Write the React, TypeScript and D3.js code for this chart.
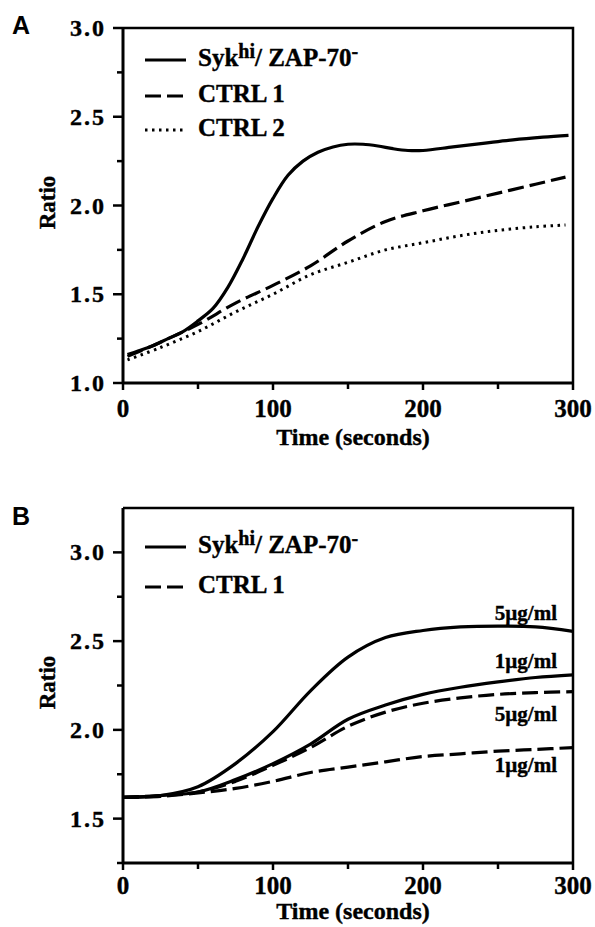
import React from 'react';
import * as d3 from 'd3';

type Pt = [number, number];

// time axis (seconds)
const timeTicks = [0, 100, 200, 300];
const timeMinorTicks = [50, 150, 250];

// ratio axis ticks
const ratioTicksA = [1.0, 1.5, 2.0, 2.5, 3.0];
const ratioMinorA = [1.25, 1.75, 2.25, 2.75];
const ratioTicksB = [1.5, 2.0, 2.5, 3.0];
const ratioMinorB = [1.25, 1.75, 2.25, 2.75];

// panel A series
const sykA: Pt[] = [
  [3, 1.16], [10, 1.18], [20, 1.21], [30, 1.25], [40, 1.29], [50, 1.35], [60, 1.42],
  [70, 1.54], [80, 1.70], [90, 1.88], [100, 2.04], [110, 2.17], [120, 2.25], [130, 2.30],
  [140, 2.33], [150, 2.345], [160, 2.345], [170, 2.335], [180, 2.32], [190, 2.31],
  [200, 2.31], [220, 2.33], [240, 2.35], [260, 2.37], [280, 2.385], [297, 2.395],
];
const ctrl1A: Pt[] = [
  [3, 1.15], [25, 1.23], [50, 1.33], [75, 1.45], [100, 1.55], [125, 1.66], [150, 1.80],
  [175, 1.91], [200, 1.97], [225, 2.02], [250, 2.07], [275, 2.12], [295, 2.16],
];
const ctrl2A: Pt[] = [
  [3, 1.13], [25, 1.20], [50, 1.29], [75, 1.40], [100, 1.50], [125, 1.61], [150, 1.68],
  [175, 1.75], [200, 1.79], [225, 1.83], [250, 1.86], [275, 1.88], [295, 1.89],
];

// panel B series
const syk5B: Pt[] = [
  [0, 1.62], [25, 1.63], [50, 1.68], [75, 1.81], [100, 1.99], [125, 2.22], [150, 2.41],
  [175, 2.52], [200, 2.56], [225, 2.58], [250, 2.585], [275, 2.58], [300, 2.555],
];
const syk1B: Pt[] = [
  [0, 1.62], [25, 1.63], [50, 1.65], [75, 1.72], [100, 1.81], [125, 1.92], [150, 2.06],
  [175, 2.14], [200, 2.20], [225, 2.24], [250, 2.27], [275, 2.295], [300, 2.31],
];
const ctrl5B: Pt[] = [
  [0, 1.62], [25, 1.63], [50, 1.65], [75, 1.71], [100, 1.80], [125, 1.90], [150, 2.02],
  [175, 2.10], [200, 2.15], [225, 2.18], [250, 2.20], [275, 2.21], [300, 2.215],
];
const ctrl1B: Pt[] = [
  [0, 1.62], [25, 1.625], [50, 1.645], [75, 1.67], [100, 1.71], [125, 1.76], [150, 1.79],
  [175, 1.82], [200, 1.85], [225, 1.865], [250, 1.88], [275, 1.89], [300, 1.90],
];

const doseLabels = ['5\u00b5g/ml', '1\u00b5g/ml', '5\u00b5g/ml', '1\u00b5g/ml'];
const doseLabelValues = [2.62, 2.35, 2.05, 1.76];

const SERIF = 'Liberation Serif';
const SANS = 'Liberation Sans';

const styles = {
  solid: { dash: undefined as string | undefined, width: 3.2 },
  dashed: { dash: '16,6', width: 3.2 },
  dotted: { dash: '2.5,4.5', width: 3 },
};

interface Series {
  data: Pt[];
  kind: keyof typeof styles;
}

interface LegendItem {
  kind: keyof typeof styles;
  label: string;
  y: number;
}

interface PanelProps {
  letter: string;
  letterY: number;
  top: number;
  bottom: number;
  tickDy: number;
  titleDy: number;
  yDomain: [number, number];
  yTicks: number[];
  yMinor: number[];
  series: Series[];
  legend: LegendItem[];
  labels?: { text: string; value: number }[];
}

const LEFT = 123;
const RIGHT = 573;
const fmt = d3.format('.1f');

// text in the figure is heavy, scanned Times bold
const txt = {
  fontFamily: SERIF,
  fontWeight: 'bold' as const,
  stroke: '#000',
  strokeWidth: 0.4,
};

const Label: React.FC<{ label: string; x: number; y: number }> = ({ label, x, y }) => {
  if (label === 'syk') {
    return (
      <text x={x} y={y} fontSize={25} {...txt}>
        Syk
        <tspan fontSize={20} dy={-8}>hi</tspan>
        <tspan dy={8}>/ ZAP-70</tspan>
        <tspan fontSize={20} dy={-8}>-</tspan>
      </text>
    );
  }
  return (
    <text x={x} y={y} fontSize={25} {...txt}>
      {label}
    </text>
  );
};

const Panel: React.FC<PanelProps> = ({
  letter, letterY, top, bottom, tickDy, titleDy, yDomain, yTicks, yMinor, series, legend, labels,
}) => {
  const x = d3.scaleLinear().domain([0, 300]).range([LEFT, RIGHT]);
  const y = d3.scaleLinear().domain(yDomain).range([bottom, top]);
  const line = d3
    .line<Pt>()
    .x((d) => x(d[0]))
    .y((d) => y(d[1]))
    .curve(d3.curveCatmullRom.alpha(0.5));
  const mid = (top + bottom) / 2;

  return (
    <g>
      <text x={12} y={letterY} fontFamily={SANS} fontWeight="bold" fontSize={25}>
        {letter}
      </text>

      {/* frame */}
      <path
        d={`M${LEFT},${top}H${RIGHT}V${bottom}`}
        fill="none"
        stroke="#000"
        strokeWidth={2.5}
      />
      <line x1={LEFT} x2={RIGHT} y1={bottom} y2={bottom} stroke="#000" strokeWidth={3} />
      <line x1={LEFT} x2={LEFT} y1={top} y2={bottom} stroke="#000" strokeWidth={3} />

      {/* y ticks */}
      {yTicks.map((t) => (
        <g key={`yt${t}`}>
          <line x1={LEFT - 10} x2={LEFT} y1={y(t)} y2={y(t)} stroke="#000" strokeWidth={2.5} />
          <text
            x={106}
            y={y(t) + 8}
            textAnchor="end"
            fontSize={24}
            letterSpacing={2}
            {...txt}
          >
            {fmt(t)}
          </text>
        </g>
      ))}
      {yMinor.map((t) => (
        <line key={`ym${t}`} x1={LEFT - 6} x2={LEFT} y1={y(t)} y2={y(t)} stroke="#000" strokeWidth={2.5} />
      ))}

      {/* x ticks */}
      {timeTicks.map((t) => (
        <g key={`xt${t}`}>
          <line x1={x(t)} x2={x(t)} y1={bottom} y2={bottom + 7} stroke="#000" strokeWidth={2.5} />
          <text x={x(t)} y={bottom + tickDy} textAnchor="middle" fontSize={25} {...txt}>
            {t}
          </text>
        </g>
      ))}
      {timeMinorTicks.map((t) => (
        <line key={`xm${t}`} x1={x(t)} x2={x(t)} y1={bottom} y2={bottom + 6} stroke="#000" strokeWidth={2.5} />
      ))}

      <text
        x={(LEFT + RIGHT) / 2 + 5}
        y={bottom + titleDy}
        textAnchor="middle"
        fontSize={24}
        {...txt}
      >
        Time (seconds)
      </text>
      <text
        transform={`translate(55,${mid - 3}) rotate(-90)`}
        textAnchor="middle"
        fontSize={23}
        {...txt}
      >
        Ratio
      </text>

      {/* curves */}
      {series.map((s, i) => (
        <path
          key={i}
          d={line(s.data) || ''}
          fill="none"
          stroke="#000"
          strokeWidth={styles[s.kind].width}
          strokeDasharray={styles[s.kind].dash}
        />
      ))}

      {/* legend */}
      {legend.map((l, i) => (
        <g key={`lg${i}`}>
          <line
            x1={145}
            x2={186}
            y1={l.y}
            y2={l.y}
            stroke="#000"
            strokeWidth={styles[l.kind].width}
            strokeDasharray={styles[l.kind].dash}
          />
          <Label label={l.label} x={198} y={l.y + 6} />
        </g>
      ))}

      {labels?.map((l, i) => (
        <text key={`dl${i}`} x={557} y={y(l.value)} textAnchor="end" fontSize={21} {...txt}>
          {l.text}
        </text>
      ))}
    </g>
  );
};

const App: React.FC = () => {
  return (
    <svg
      width={595}
      height={927}
      style={{ position: 'absolute', left: 0, top: 0, background: '#fff' }}
    >
      <rect width={595} height={927} fill="#fff" />
      <Panel
        letter="A"
        letterY={34}
        top={28}
        bottom={383}
        tickDy={34}
        titleDy={62}
        yDomain={[1.0, 3.0]}
        yTicks={ratioTicksA}
        yMinor={ratioMinorA}
        series={[
          { data: sykA, kind: 'solid' },
          { data: ctrl1A, kind: 'dashed' },
          { data: ctrl2A, kind: 'dotted' },
        ]}
        legend={[
          { kind: 'solid', label: 'syk', y: 60 },
          { kind: 'dashed', label: 'CTRL 1', y: 96 },
          { kind: 'dotted', label: 'CTRL 2', y: 130 },
        ]}
      />
      <Panel
        letter="B"
        letterY={525}
        top={508}
        bottom={863}
        tickDy={31}
        titleDy={56}
        yDomain={[1.25, 3.25]}
        yTicks={ratioTicksB}
        yMinor={ratioMinorB}
        series={[
          { data: syk5B, kind: 'solid' },
          { data: syk1B, kind: 'solid' },
          { data: ctrl5B, kind: 'dashed' },
          { data: ctrl1B, kind: 'dashed' },
        ]}
        legend={[
          { kind: 'solid', label: 'syk', y: 547 },
          { kind: 'dashed', label: 'CTRL 1', y: 587 },
        ]}
        labels={doseLabels.map((text, i) => ({ text, value: doseLabelValues[i] }))}
      />
    </svg>
  );
};

export default App;
